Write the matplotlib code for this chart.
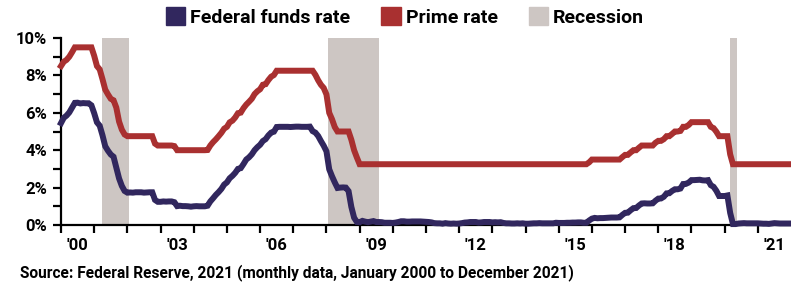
import numpy as np
import matplotlib
matplotlib.use("Agg")
import matplotlib.pyplot as plt
from matplotlib.patches import Patch

# monthly data, Jan 2000 - Dec 2021 (percent)
fed_funds = [
    5.45, 5.73, 5.85, 6.02, 6.27, 6.53, 6.54, 6.50, 6.52, 6.51, 6.51, 6.40,
    5.98, 5.49, 5.31, 4.80, 4.21, 3.97, 3.77, 3.65, 3.07, 2.49, 2.09, 1.82,
    1.73, 1.74, 1.73, 1.75, 1.75, 1.75, 1.73, 1.74, 1.75, 1.75, 1.34, 1.24,
    1.24, 1.26, 1.25, 1.26, 1.26, 1.22, 1.01, 1.03, 1.01, 1.01, 1.00, 0.98,
    1.00, 1.01, 1.00, 1.00, 1.00, 1.03, 1.26, 1.43, 1.61, 1.76, 1.93, 2.16,
    2.28, 2.50, 2.63, 2.79, 3.00, 3.04, 3.26, 3.50, 3.62, 3.78, 4.00, 4.16,
    4.29, 4.49, 4.59, 4.79, 4.94, 4.99, 5.24, 5.25, 5.25, 5.25, 5.25, 5.24,
    5.25, 5.26, 5.26, 5.25, 5.25, 5.25, 5.26, 5.02, 4.94, 4.76, 4.49, 4.24,
    3.94, 2.98, 2.61, 2.28, 1.98, 2.00, 2.01, 2.00, 1.81, 0.97, 0.39, 0.16,
    0.15, 0.22, 0.18, 0.15, 0.18, 0.21, 0.16, 0.16, 0.15, 0.12, 0.12, 0.12,
    0.11, 0.13, 0.16, 0.20, 0.20, 0.18, 0.18, 0.19, 0.19, 0.19, 0.19, 0.18,
    0.17, 0.16, 0.14, 0.10, 0.09, 0.09, 0.07, 0.10, 0.08, 0.07, 0.08, 0.07,
    0.08, 0.10, 0.13, 0.14, 0.16, 0.16, 0.16, 0.13, 0.14, 0.16, 0.16, 0.16,
    0.14, 0.15, 0.14, 0.15, 0.11, 0.09, 0.09, 0.08, 0.08, 0.09, 0.08, 0.09,
    0.07, 0.07, 0.08, 0.09, 0.09, 0.10, 0.09, 0.09, 0.09, 0.09, 0.09, 0.12,
    0.11, 0.11, 0.11, 0.12, 0.12, 0.13, 0.13, 0.14, 0.14, 0.12, 0.12, 0.24,
    0.34, 0.38, 0.36, 0.37, 0.37, 0.38, 0.39, 0.40, 0.40, 0.40, 0.41, 0.54,
    0.65, 0.66, 0.79, 0.90, 0.91, 1.04, 1.15, 1.16, 1.15, 1.15, 1.16, 1.30,
    1.41, 1.42, 1.51, 1.69, 1.70, 1.82, 1.91, 1.91, 1.95, 2.19, 2.20, 2.27,
    2.40, 2.40, 2.41, 2.42, 2.39, 2.38, 2.40, 2.13, 2.04, 1.83, 1.55, 1.55,
    1.55, 1.58, 0.65, 0.05, 0.05, 0.08, 0.09, 0.10, 0.09, 0.09, 0.09, 0.09,
    0.09, 0.08, 0.07, 0.07, 0.06, 0.08, 0.10, 0.09, 0.08, 0.08, 0.08, 0.08,
]
prime = [
    8.50, 8.73, 8.83, 9.00, 9.24, 9.50, 9.50, 9.50, 9.50, 9.50, 9.50, 9.50,
    9.05, 8.50, 8.32, 7.80, 7.24, 6.98, 6.75, 6.67, 6.28, 5.53, 5.10, 4.84,
    4.75, 4.75, 4.75, 4.75, 4.75, 4.75, 4.75, 4.75, 4.75, 4.75, 4.35, 4.25,
    4.25, 4.25, 4.25, 4.25, 4.25, 4.22, 4.00, 4.00, 4.00, 4.00, 4.00, 4.00,
    4.00, 4.00, 4.00, 4.00, 4.00, 4.01, 4.25, 4.43, 4.58, 4.75, 4.93, 5.15,
    5.25, 5.49, 5.58, 5.75, 5.98, 6.01, 6.25, 6.44, 6.59, 6.75, 7.00, 7.15,
    7.26, 7.50, 7.53, 7.75, 7.93, 8.02, 8.25, 8.25, 8.25, 8.25, 8.25, 8.25,
    8.25, 8.25, 8.25, 8.25, 8.25, 8.25, 8.25, 8.25, 8.03, 7.74, 7.50, 7.33,
    6.98, 6.00, 5.66, 5.24, 5.00, 5.00, 5.00, 5.00, 5.00, 4.56, 4.00, 3.61,
] + [3.25] * 83 + [3.35] + [
    3.50, 3.50, 3.50, 3.50, 3.50, 3.50, 3.50, 3.50, 3.50, 3.50, 3.50, 3.63,
    3.75, 3.75, 3.88, 4.00, 4.00, 4.13, 4.25, 4.25, 4.25, 4.25, 4.25, 4.40,
    4.50, 4.50, 4.59, 4.75, 4.75, 4.87, 5.00, 5.00, 5.03, 5.25, 5.25, 5.35,
    5.50, 5.50, 5.50, 5.50, 5.50, 5.50, 5.50, 5.25, 5.18, 4.99, 4.75, 4.75,
    4.75, 4.75, 3.78, 3.25, 3.25, 3.25, 3.25, 3.25, 3.25, 3.25, 3.25, 3.25,
] + [3.25] * 12

recession_start = [2001.23, 2008.04, 2020.15]
recession_end = [2002.05, 2009.58, 2020.36]

year_labels = ["'00", "'03", "'06", "'09", "'12", "'15", "'18", "'21"]
label_years = [2000, 2003, 2006, 2009, 2012, 2015, 2018, 2021]

navy = "#31275e"
red = "#a93030"
grey = "#cdc6c3"

plt.rcParams['font.family'] = ['Roboto', 'DejaVu Sans']
plt.rcParams['font.weight'] = 'bold'

fig = plt.figure(figsize=(7.91, 2.84), dpi=100)
ax = fig.add_axes([61 / 791, 1 - 225 / 284, 1 - 61 / 791, (225 - 38) / 284])

t = 2000 + np.arange(len(fed_funds)) / 12

for s, e in zip(recession_start, recession_end):
    ax.axvspan(s, e, color=grey, lw=0, zorder=1)

ax.plot(t, prime, color=red, lw=4.3, solid_joinstyle='miter', zorder=3, clip_on=False)
ax.plot(t, fed_funds, color=navy, lw=4.3, solid_joinstyle='miter', zorder=4, clip_on=False)

ax.set_xlim(2000, 2022)
ax.set_ylim(0, 10)

for side in ['top', 'right']:
    ax.spines[side].set_visible(False)
for side in ['left', 'bottom']:
    ax.spines[side].set_color('black')
    ax.spines[side].set_linewidth(1.6)

ax.set_yticks(np.arange(0, 11, 2))
ax.set_yticklabels([f"{v}%" for v in range(0, 11, 2)])
ax.set_yticks(np.arange(1, 10, 2), minor=True)
ax.tick_params(axis='y', which='both', direction='out', length=6, width=1.6,
               pad=4, labelsize=12, colors='black')

ax.set_xticks(np.arange(2000, 2022))
ax.set_xticklabels([])
ax.set_xticks([y + 0.5 for y in label_years], minor=True)
ax.set_xticklabels(year_labels, minor=True)
ax.tick_params(axis='x', which='major', direction='out', length=6, width=1.6)
ax.tick_params(axis='x', which='minor', length=0, pad=9, labelsize=12)

handles = [Patch(color=navy, label='Federal funds rate'),
           Patch(color=red, label='Prime rate'),
           Patch(color=grey, label='Recession')]
fig.legend(handles=handles, loc='center', bbox_to_anchor=(0.512, 0.94), ncol=3,
           frameon=False, fontsize=14, handlelength=1.0, handleheight=1.0,
           handletextpad=0.25, columnspacing=1.6)

fig.text(20 / 791, 1 - 273 / 284,
         "Source: Federal Reserve, 2021 (monthly data, January 2000 to December 2021)",
         fontsize=11.2, fontweight='bold', va='center', ha='left')

fig.savefig("out.png", dpi=100)
